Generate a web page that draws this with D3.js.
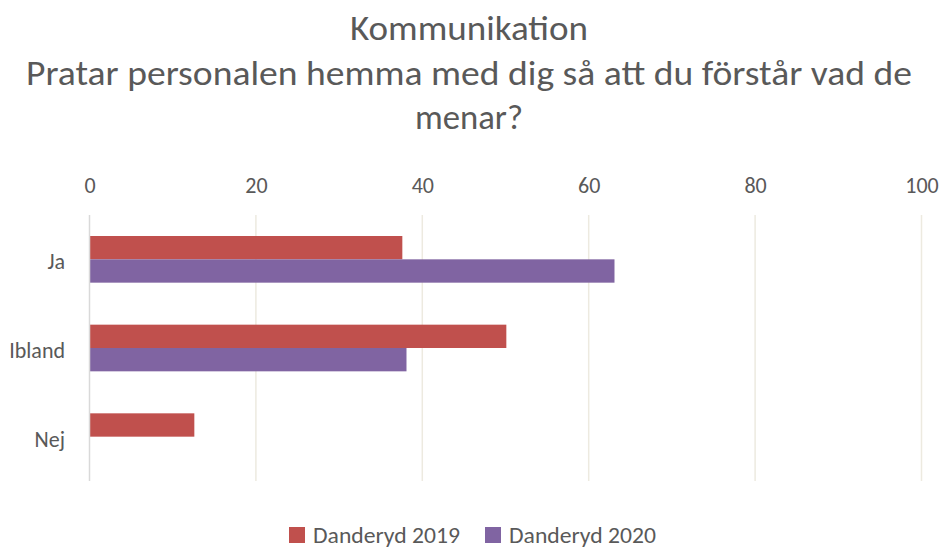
<!DOCTYPE html>
<html>
<head>
<meta charset="utf-8">
<script src="https://cdn.jsdelivr.net/npm/d3@7"></script>
<style>
  body { margin: 0; background: #fff; }
  svg text { font-family: Carlito, Calibri, "Open Sans", sans-serif; fill: #595959; }
</style>
</head>
<body>
<script>
'use strict';

// chart data
const categories = ["Ja", "Ibland", "Nej"];
const seriesNames = ["Danderyd 2019", "Danderyd 2020"];
const values2019 = [37.6, 50.1, 12.6];
const values2020 = [63.1, 38.1, 0];
const xTicks = [0, 20, 40, 60, 80, 100];
const titleLines = ["Kommunikation", "Pratar personalen hemma med dig så att du förstår vad de", "menar?"];
const colors = ["#C0504D", "#8064A2"];

const width = 943, height = 549;
const plot = {left: 89.5, right: 921.5, top: 215, bottom: 481};

const svg = d3.select("body").append("svg")
  .attr("width", width)
  .attr("height", height);

// title, three centered lines
const titleY = [40, 85, 129];
const titleW = [238, 886, 108];
titleLines.forEach((t, i) => {
  svg.append("text")
    .attr("x", 469)
    .attr("y", titleY[i])
    .attr("text-anchor", "middle")
    .attr("textLength", titleW[i])
    .attr("lengthAdjust", "spacingAndGlyphs")
    .style("font-size", "34px")
    .text(t);
});

const x = d3.scaleLinear().domain([0, 100]).range([plot.left, plot.right]);
const y0 = d3.scaleBand().domain(categories).range([plot.top, plot.bottom]);
const y1 = d3.scaleBand().domain(seriesNames).range([0, y0.bandwidth()]).paddingOuter(0.9);

// gridlines
svg.append("g")
  .selectAll("line")
  .data(xTicks.slice(1))
  .enter().append("line")
    .attr("x1", d => x(d)).attr("x2", d => x(d))
    .attr("y1", plot.top).attr("y2", plot.bottom)
    .attr("stroke", "#EDEAE0")
    .attr("stroke-width", 1.5);

// top axis labels
const xAxis = d3.axisTop(x).tickValues(xTicks).tickSize(0).tickPadding(0);
const gx = svg.append("g")
  .attr("transform", "translate(0,193)")
  .call(xAxis);
gx.select(".domain").remove();
gx.selectAll("text")
  .attr("dy", 0)
  .style("font-size", "22px")
  .attr("fill", "#595959");

// bars
const rows = categories.map((c, i) => ({cat: c, vals: [values2019[i], values2020[i]]}));
const groups = svg.append("g")
  .selectAll("g")
  .data(rows)
  .enter().append("g")
    .attr("transform", d => "translate(0," + y0(d.cat) + ")");

groups.selectAll("rect")
  .data(d => d.vals.map((v, j) => ({name: seriesNames[j], v: v, color: colors[j]})))
  .enter().append("rect")
    .attr("x", x(0))
    .attr("y", d => y1(d.name))
    .attr("width", d => x(d.v) - x(0))
    .attr("height", y1.bandwidth())
    .attr("fill", d => d.color);

// zero axis line
svg.append("line")
  .attr("x1", x(0)).attr("x2", x(0))
  .attr("y1", plot.top).attr("y2", plot.bottom)
  .attr("stroke", "#D9D9D9")
  .attr("stroke-width", 1.5);

// category labels
const yAxis = d3.axisLeft(y0).tickSize(0).tickPadding(24.5);
const gy = svg.append("g")
  .attr("transform", "translate(" + x(0) + ",3)")
  .call(yAxis);
gy.select(".domain").remove();
gy.selectAll("text")
  .style("font-size", "22px")
  .attr("fill", "#595959");

// legend
const legendX = [289, 485];
const legend = svg.append("g")
  .selectAll("g")
  .data(seriesNames)
  .enter().append("g")
    .attr("transform", (d, i) => "translate(" + legendX[i] + ",527)");
legend.append("rect")
  .attr("width", 16).attr("height", 16)
  .attr("fill", (d, i) => colors[i]);
legend.append("text")
  .attr("x", 24)
  .attr("y", 16)
  .attr("textLength", 147)
  .attr("lengthAdjust", "spacingAndGlyphs")
  .style("font-size", "22px")
  .text(d => d);
</script>
</body>
</html>
